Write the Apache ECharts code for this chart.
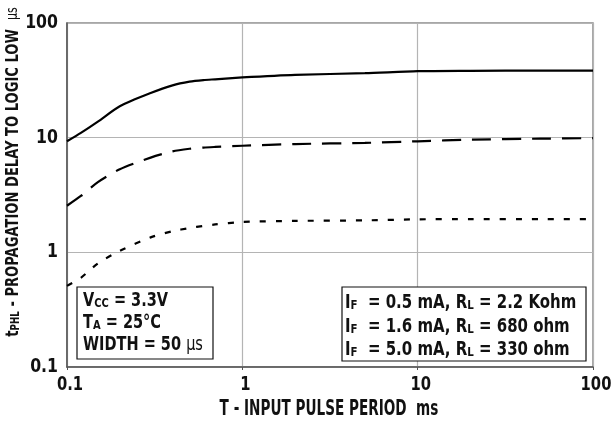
<!DOCTYPE html>
<html><head><meta charset="utf-8">
<script src="https://cdn.jsdelivr.net/npm/echarts@6/dist/echarts.min.js"></script>
<style>html,body{margin:0;padding:0;background:#fff}#c{width:616px;height:421px}</style>
</head><body><div id="c"></div>
<script>
// T - input pulse period (ms)
const periods = [0.1, 0.12, 0.15, 0.2, 0.3, 0.4, 0.5, 0.6, 0.7, 1, 2, 5, 10, 20, 50, 100];
// tPHL (µs) for the three drive conditions
const delayIF05 = [9.3, 11, 13.8, 18.8, 24.5, 28.6, 30.8, 31.8, 32.3, 33.5, 35.3, 36.5, 38, 38.3, 38.5, 38.5];
const delayIF16 = [2.55, 3.1, 4.1, 5.3, 6.7, 7.6, 8.0, 8.2, 8.3, 8.5, 8.8, 9.0, 9.3, 9.6, 9.8, 9.9];
const delayIF50 = [0.51, 0.6, 0.8, 1.03, 1.35, 1.53, 1.63, 1.7, 1.75, 1.84, 1.88, 1.9, 1.94, 1.95, 1.95, 1.95];
const xTickValues = [0.1, 1, 10, 100];
const yTickValues = [0.1, 1, 10, 100];
const seriesNames = ['IF = 0.5 mA, RL = 2.2 Kohm', 'IF = 1.6 mA, RL = 680 ohm', 'IF = 5.0 mA, RL = 330 ohm'];

const FONT = "'Liberation Sans Narrow','DejaVu Sans Condensed','Arial Narrow',sans-serif";
const chart = echarts.init(document.getElementById('c'), null, {renderer: 'canvas'});

function pairs(ys) { return periods.map((p, i) => [p, ys[i]]); }
function lineSeries(name, ys, type) {
  return {
    name, type: 'line', data: pairs(ys), symbol: 'none', smooth: 0.25,
    lineStyle: {color: '#000', width: 2.2, type: type, cap: 'butt'},
    silent: true, z: 5
  };
}
const fmt = v => { const r = Math.round(v * 10) / 10; return String(r); };

const option = {
  backgroundColor: '#fff',
  animation: false,
  grid: {left: 67, right: 23, top: 23, bottom: 54, show: true, borderColor: '#8a8a8a', borderWidth: 1.5},
  xAxis: {
    type: 'log', logBase: 10, min: 0.1, max: 100,
    axisLine: {show: true, lineStyle: {color: '#555', width: 1.5}},
    axisTick: {show: true, length: 3, lineStyle: {color: '#555'}},
    splitLine: {show: true, lineStyle: {color: '#b4b4b4', width: 1.2}},
    axisLabel: {show: false}
  },
  yAxis: {
    type: 'log', logBase: 10, min: 0.1, max: 100,
    axisLine: {show: true, lineStyle: {color: '#555', width: 1.5}},
    axisTick: {show: false},
    splitLine: {show: true, lineStyle: {color: '#b4b4b4', width: 1.2}},
    axisLabel: {show: false}
  },
  series: [
    lineSeries(seriesNames[0], delayIF05, 'solid'),
    lineSeries(seriesNames[1], delayIF16, [19, 11]),
    lineSeries(seriesNames[2], delayIF50, [6, 10])
  ]
};
chart.setOption(option);

const graphics = [];
// tick labels placed through the axes' own log scales
xTickValues.forEach(v => {
  const px = chart.convertToPixel({xAxisIndex: 0}, v);
  graphics.push({type: 'text', x: px + 3, y: 384.5, scaleX: 0.82, z: 10,
    style: {text: fmt(v), align: 'center', verticalAlign: 'middle', fontFamily: FONT, fontWeight: 'bold', fontSize: 20, fill: '#111'}});
});
yTickValues.forEach(v => {
  const py = chart.convertToPixel({yAxisIndex: 0}, v);
  graphics.push({type: 'text', x: 58, y: py, scaleX: 0.92, z: 10,
    style: {text: fmt(v), align: 'right', verticalAlign: 'middle', fontFamily: FONT, fontWeight: 'bold', fontSize: 19, fill: '#111'}});
});
graphics.push(
  // y axis title
  {type: 'text', x: 13, y: 172, rotation: Math.PI / 2, scaleX: 0.81, z: 10,
    style: {
      text: '{t|t}{s|PHL}{t| - PROPAGATION DELAY TO LOGIC LOW  }{u|µs}',
      align: 'center', verticalAlign: 'middle',
      rich: {
        t: {fontFamily: FONT, fontWeight: 'bold', fontSize: 18, fill: '#111'},
        s: {fontFamily: FONT, fontWeight: 'bold', fontSize: 12, fill: '#111', padding: [6, 0, 0, 0]},
        u: {fontFamily: FONT, fontWeight: 'normal', fontSize: 15, fill: '#111'}
      }
    }},
  // x axis title
  {type: 'text', x: 329, y: 409.5, scaleX: 0.72, z: 10,
    style: {text: 'T - INPUT PULSE PERIOD  ms', align: 'center', verticalAlign: 'middle',
      fontFamily: FONT, fontWeight: 'bold', fontSize: 21, fill: '#111'}},
  // left condition box
  {type: 'rect', shape: {x: 77, y: 287, width: 136, height: 72}, z: 10,
    style: {fill: '#fff', stroke: '#111', lineWidth: 1.2}},
  {type: 'text', x: 83, y: 323, scaleX: 0.85, z: 11,
    style: {
      text: '{b|V}{s|CC}{b| = 3.3V}\n{b|T}{s|A}{b| = 25°C}\n{b|WIDTH = 50 }{u|µs}',
      verticalAlign: 'middle', lineHeight: 22,
      rich: {
        b: {fontFamily: FONT, fontWeight: 'bold', fontSize: 19, fill: '#111', lineHeight: 22},
        s: {fontFamily: FONT, fontWeight: 'bold', fontSize: 13, fill: '#111', lineHeight: 22, padding: [5, 0, 0, 0]},
        u: {fontFamily: FONT, fontWeight: 'normal', fontSize: 19, fill: '#111', lineHeight: 22}
      }
    }},
  // right condition box
  {type: 'rect', shape: {x: 342, y: 287, width: 244, height: 74}, z: 10,
    style: {fill: '#fff', stroke: '#111', lineWidth: 1.2}},
  {type: 'text', x: 345, y: 327, scaleX: 0.875, z: 11,
    style: {
      text: '{b|I}{s|F}{b|  = 0.5 mA, R}{s|L}{b| = 2.2 Kohm}\n{b|I}{s|F}{b|  = 1.6 mA, R}{s|L}{b| = 680 ohm}\n{b|I}{s|F}{b|  = 5.0 mA, R}{s|L}{b| = 330 ohm}',
      verticalAlign: 'middle', lineHeight: 23.5,
      rich: {
        b: {fontFamily: FONT, fontWeight: 'bold', fontSize: 19, fill: '#111', lineHeight: 23.5},
        s: {fontFamily: FONT, fontWeight: 'bold', fontSize: 13, fill: '#111', lineHeight: 23.5, padding: [5, 0, 0, 0]}
      }
    }}
);
chart.setOption({graphic: graphics});
</script>
</body></html>
